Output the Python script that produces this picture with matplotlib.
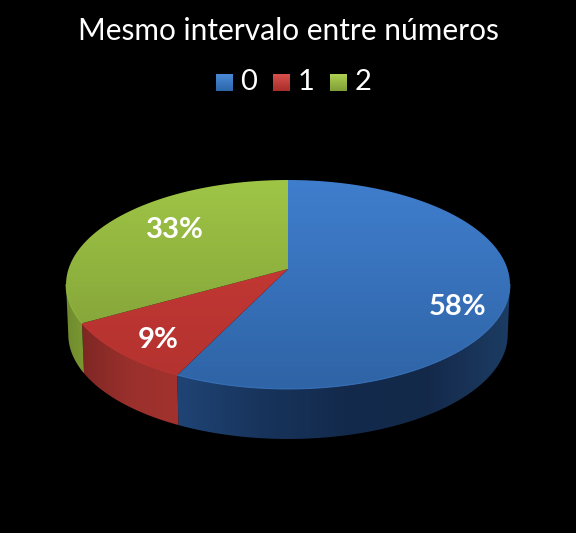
import numpy as np
import matplotlib
matplotlib.use("Agg")
import matplotlib.pyplot as plt
from matplotlib.colors import LinearSegmentedColormap as LSC
from matplotlib.patches import Polygon

title = "Mesmo intervalo entre números"
categories = ["0", "1", "2"]
labels = ["58%", "9%", "33%"]
# sweep of each slice as measured on the picture (percent of the circle)
sweeps = [57.2, 9.6, 33.2]

top_colors = [("#3f7ecd", "#2f64a6"), ("#cc3b37", "#b2322f"), ("#9fc546", "#7c9a35")]
side_colors = [["#1f4475", "#18345c", "#132a4c", "#14294a", "#1c3c63"],
               ["#7f2724", "#9a302c", "#a3322e"],
               ["#6f8a2e", "#7a9832"]]
legend_colors = [("#4a8ad6", "#2d66aa"), ("#d9504c", "#a82e2b"), ("#aed052", "#7f9e36")]

FONT = "Lato"
W, H = 576, 533
fig = plt.figure(figsize=(W / 100, H / 100), dpi=100, facecolor="black")
ax = fig.add_axes([0, 0, 1, 1])
ax.set_xlim(0, W); ax.set_ylim(H, 0); ax.axis("off")

# perspective projection of the unit disc
CX, A, R, P, Q = 288, 219.5, 0.1483, -62.3, 269
DEPTH = 50

def project(theta, radius=1.0, lower=False):
    X = radius * np.sin(theta); Y = radius * np.cos(theta)
    d = 1 + R * Y
    scale = 0.99 if lower else 1.0
    return CX + scale * A * X / d, (P * Y + Q) / d + (DEPTH if lower else 0)

def gradient(path_pts, cols, horizontal=False, extent=None, z=2):
    cmap = LSC.from_list("g", cols)
    arr = np.linspace(0, 1, 256)
    arr = arr[None, :] if horizontal else arr[:, None]
    im = ax.imshow(arr, cmap=cmap, extent=extent, aspect="auto", zorder=z, interpolation="bilinear")
    poly = Polygon(path_pts, closed=True, transform=ax.transData, fc="none", ec="none")
    ax.add_patch(poly)
    im.set_clip_path(poly)
    ax.set_xlim(0, W); ax.set_ylim(H, 0)

edges = np.radians(np.concatenate([[0], np.cumsum(sweeps)]) * 3.6)
sil = np.arccos(-R)
vis0, vis1 = sil, 2 * np.pi - sil

# side wall
for i in range(3):
    a, b = max(edges[i], vis0), min(edges[i + 1], vis1)
    if b <= a:
        continue
    t = np.linspace(a, b, 200)
    ux, uy = project(t)
    lx, ly = project(t[::-1], lower=True)
    pts = np.column_stack([np.r_[ux, lx], np.r_[uy, ly]])
    ext = (pts[:, 0].min(), pts[:, 0].max(), H, 0)
    gradient(pts, side_colors[i], horizontal=True, extent=ext, z=2)

# top face
for i in range(3):
    t = np.linspace(edges[i], edges[i + 1], 300)
    x, y = project(t)
    px, py = project(0.0, radius=0.0)
    pts = np.column_stack([np.r_[px, x], np.r_[py, y]])
    gradient(pts, top_colors[i], extent=(0, W, 389, 180), z=3)
    ax.plot(*project(np.linspace(max(edges[i], vis0), min(edges[i + 1], vis1), 200)),
            color=top_colors[i][0], lw=0.7, alpha=0.8, zorder=4)

# slice labels
label_pos = [(458, 307), (158, 340), (175, 230)]
for s, (x, y) in zip(labels, label_pos):
    ax.text(x, y, s, color="white", fontsize=21, fontweight="bold", family=FONT,
            ha="center", va="center", zorder=5)

ax.text(288, 31, title, color="white", fontsize=21.5, family=FONT, ha="center", va="center")

# legend
sq_x = [216, 273, 330]
for c, x, cols in zip(categories, sq_x, legend_colors):
    sq = [(x, 74), (x + 17, 74), (x + 17, 91), (x, 91)]
    gradient(sq, cols, extent=(x, x + 17, 91, 74), z=3)
    ax.text(x + 33, 82, c, color="white", fontsize=21, family=FONT, ha="center", va="center")

fig.savefig("out.png", dpi=100, facecolor="black")
